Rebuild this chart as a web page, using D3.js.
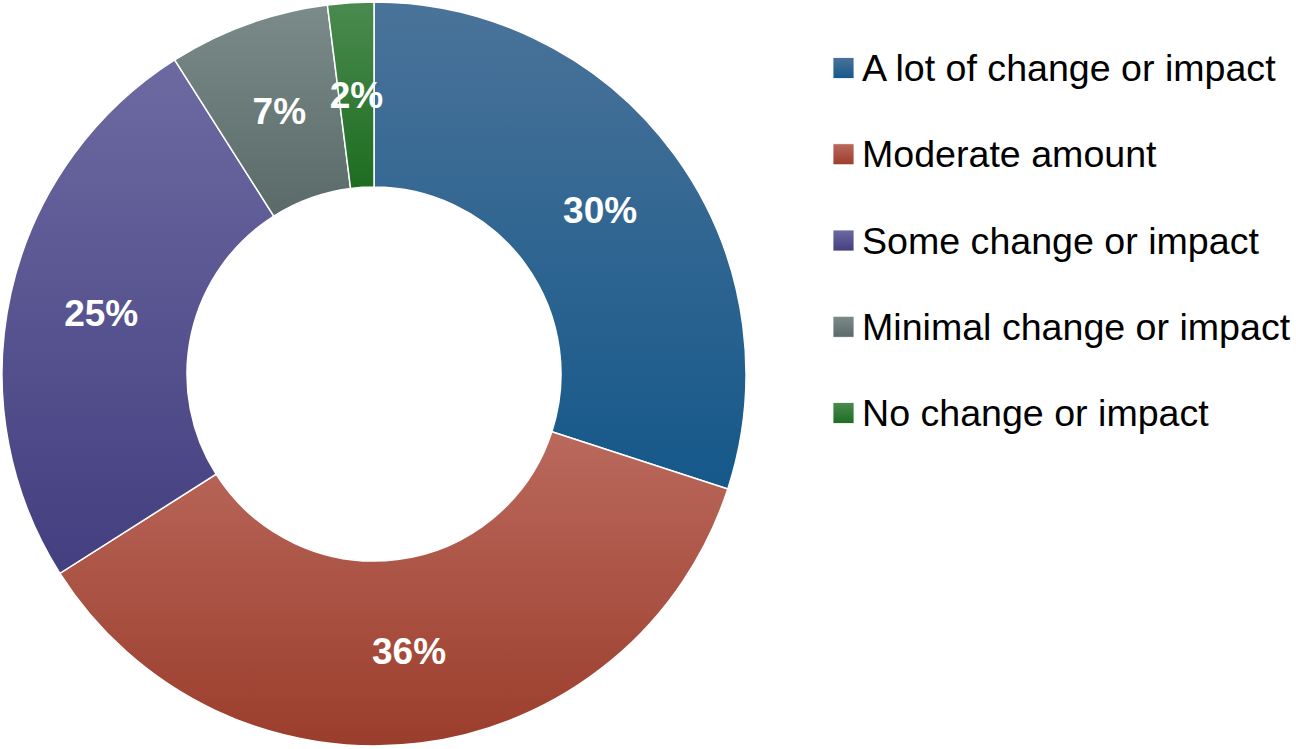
<!DOCTYPE html>
<html>
<head>
<meta charset="utf-8">
<script src="https://cdn.jsdelivr.net/npm/d3@7"></script>
<style>
  html, body { margin: 0; padding: 0; background: #fff; }
  svg { display: block; }
</style>
</head>
<body>
<svg id="chart" width="1296" height="749"></svg>
<script>
// Survey responses: degree of change or impact
const categories = [
  "A lot of change or impact",
  "Moderate amount",
  "Some change or impact",
  "Minimal change or impact",
  "No change or impact"
];
const values = [30, 36, 25, 7, 2];
const labels = ["30%", "36%", "25%", "7%", "2%"];
// Each slice is shaded top-to-bottom from a lighter to a deeper tone
const topColors = ["#4a7399", "#ba695d", "#6d69a1", "#7b8b89", "#4b8a4f"];
const bottomColors = ["#15588a", "#9b3d2c", "#433f80", "#596a68", "#1d6d21"];

const svg = d3.select("#chart");
const cx = 374, cy = 374;
const outerR = 372, innerR = 187;

const defs = svg.append("defs");
categories.forEach((c, i) => {
  const g = defs.append("linearGradient")
    .attr("id", "grad" + i)
    .attr("x1", 0).attr("y1", 0).attr("x2", 0).attr("y2", 1);
  g.append("stop").attr("offset", "0%").attr("stop-color", topColors[i]);
  g.append("stop").attr("offset", "100%").attr("stop-color", bottomColors[i]);
});

const pie = d3.pie().sort(null).value(d => d);
const arcs = pie(values);
const arc = d3.arc().innerRadius(innerR).outerRadius(outerR);

const g = svg.append("g").attr("transform", `translate(${cx},${cy})`);

g.selectAll("path.slice")
  .data(arcs)
  .join("path")
  .attr("class", "slice")
  .attr("d", arc)
  .attr("fill", (d, i) => `url(#grad${i})`)
  .attr("stroke", "#ffffff")
  .attr("stroke-width", 1.5);

g.selectAll("text.value")
  .data(arcs)
  .join("text")
  .attr("class", "value")
  .attr("transform", d => `translate(${arc.centroid(d)})`)
  .attr("text-anchor", "middle")
  .attr("dy", "0.35em")
  .attr("fill", "#ffffff")
  .attr("font-family", "'Liberation Sans', Arial, sans-serif")
  .attr("font-weight", "bold")
  .attr("font-size", 37)
  .text((d, i) => labels[i]);

// Legend
const legendY = d3.scalePoint()
  .domain(categories)
  .range([68, 413]);

const legend = svg.append("g").attr("class", "legend");
const items = legend.selectAll("g.item")
  .data(categories)
  .join("g")
  .attr("class", "item")
  .attr("transform", d => `translate(833,${legendY(d)})`);

items.append("rect")
  .attr("x", 0).attr("y", -10.5)
  .attr("width", 21).attr("height", 21)
  .attr("fill", (d, i) => `url(#grad${i})`)
  .attr("stroke", "#ffffff")
  .attr("stroke-width", 0.8);

items.append("text")
  .attr("x", 29)
  .attr("dy", "0.35em")
  .attr("fill", "#000000")
  .attr("font-family", "'Liberation Sans', Arial, sans-serif")
  .attr("font-size", 37.6)
  .text(d => d);
</script>
</body>
</html>
